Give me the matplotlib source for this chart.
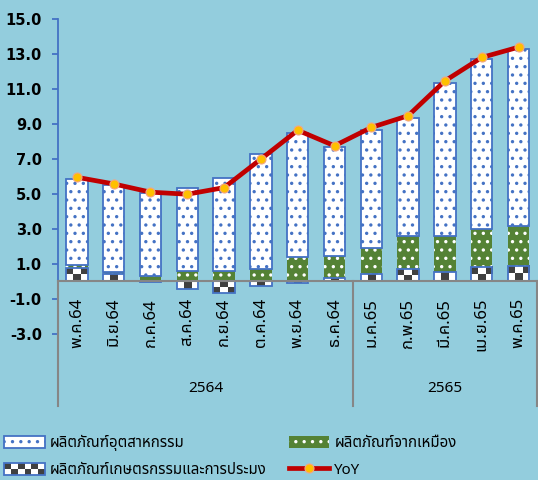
import matplotlib
import matplotlib.pyplot as plt
import numpy as np
from matplotlib.colors import ListedColormap
from matplotlib.legend_handler import HandlerBase
from matplotlib.lines import Line2D
from matplotlib.patches import Patch, Rectangle

matplotlib.use("Agg")

THAI = ["Noto Sans Thai", "Sarabun", "DejaVu Sans"]
plt.rcParams["font.family"] = THAI
plt.rcParams["hatch.linewidth"] = 1.2

months = ["พ.ค.64", "มิ.ย.64", "ก.ค.64", "ส.ค.64", "ก.ย.64", "ต.ค.64", "พ.ย.64",
          "ธ.ค.64", "ม.ค.65", "ก.พ.65", "มี.ค.65", "เม.ย.65", "พ.ค.65"]
years = ["2564", "2565"]
year_sizes = [8, 5]

agri = [0.78, 0.40, -0.06, -0.42, -0.66, -0.27, -0.07, 0.18, 0.44, 0.70, 0.51, 0.81, 0.87]
mining = [0.14, 0.13, 0.30, 0.59, 0.59, 0.68, 1.38, 1.26, 1.47, 1.91, 2.10, 2.16, 2.31]
industry = [4.93, 4.96, 4.76, 4.77, 5.34, 6.61, 7.12, 6.23, 6.76, 6.75, 8.75, 9.72, 10.10]
yoy = [5.95, 5.57, 5.10, 4.98, 5.36, 6.99, 8.64, 7.75, 8.80, 9.47, 11.46, 12.80, 13.39]

lab_ind = "ผลิตภัณฑ์อุตสาหกรรม"
lab_min = "ผลิตภัณฑ์จากเหมือง"
lab_agr = "ผลิตภัณฑ์เกษตรกรรมและการประมง"
lab_yoy = "YoY"

BG = "#93CDDD"
BLUE = "#4472C4"
GREEN = "#548235"
DARK = "#404040"
RED = "#C00000"
GRAY = "#868686"
checker_cmap = ListedColormap(["white", DARK])


class CheckerHandler(HandlerBase):
    def create_artists(self, legend, orig_handle, xdescent, ydescent,
                       width, height, fontsize, trans):
        arts = [Rectangle((-xdescent, -ydescent), width, height,
                          facecolor="white", edgecolor="none", transform=trans)]
        nc, nr = 6, 2
        cw, ch = width / nc, height / nr
        for r in range(nr):
            for c in range(nc):
                if (r + c) % 2:
                    arts.append(Rectangle((-xdescent + c * cw, -ydescent + r * ch), cw, ch,
                                          facecolor=DARK, edgecolor="none", transform=trans))
        arts.append(Rectangle((-xdescent, -ydescent), width, height, facecolor="none",
                              edgecolor=BLUE, linewidth=1.3, transform=trans))
        return arts


def main():
    fig = plt.figure(figsize=(5.38, 4.8), dpi=100, facecolor=BG)
    ax = fig.add_axes([0.1087, 0.3046, 0.8893, 0.6558])
    ax.set_facecolor(BG)

    x = np.arange(len(months))
    agri_a = np.array(agri)
    mining_a = np.array(mining)
    industry_a = np.array(industry)
    pos = np.clip(agri_a, 0, None)
    w = 0.58

    ax.set_xlim(-0.5, len(months) - 0.5)
    ax.set_ylim(-3, 15)

    # agriculture: checker texture inside the bar rectangles
    agri_bars = ax.bar(x, agri_a, w, facecolor="none", edgecolor=BLUE, linewidth=1.3, zorder=4)
    for rect in agri_bars:
        x0, y0 = rect.get_x(), rect.get_y()
        bw, bh = rect.get_width(), rect.get_height()
        nr = max(1, int(round(abs(bh) / 0.4)))
        img = np.add.outer(np.arange(nr), np.arange(3)) % 2
        ax.imshow(img, cmap=checker_cmap, extent=(x0, x0 + bw, y0, y0 + bh),
                  origin="lower", aspect="auto", interpolation="nearest", zorder=3)

    ax.bar(x, mining_a, w, bottom=pos, facecolor=GREEN, edgecolor="white",
           linewidth=0, hatch="..", zorder=3)
    ax.bar(x, industry_a, w, bottom=pos + mining_a, facecolor="white",
           edgecolor=BLUE, linewidth=1.3, hatch="..", zorder=3)

    ax.plot(x, yoy, color=RED, linewidth=3.4, marker="o", markersize=6.5,
            markerfacecolor="#FFC000", markeredgecolor="#F4A582", markeredgewidth=0.8, zorder=5)

    # value axis
    for s in ["top", "right", "bottom"]:
        ax.spines[s].set_visible(False)
    ax.spines["left"].set_color(BLUE)
    ax.spines["left"].set_linewidth(1.3)
    ax.set_yticks(np.arange(-3, 15.1, 2))
    ax.set_yticklabels([f"{v:.1f}" for v in np.arange(-3, 15.1, 2)])
    ax.tick_params(axis="y", colors=BLUE, length=4, width=1.3, pad=8)
    for t in ax.get_yticklabels():
        t.set_color("black")
        t.set_fontweight("bold")
        t.set_fontsize(10.5)
        t.set_family(["DejaVu Sans"])
    ax.set_xticks([])

    # multi-level category axis
    ax.plot([-0.5, len(months) - 0.5], [0, 0], color=GRAY, lw=1.5, clip_on=False, zorder=6)
    edges = np.concatenate([[0], np.cumsum(year_sizes)]) - 0.5
    for e in edges:
        ax.plot([e, e], [0, -7.15], color=GRAY, lw=1.5, clip_on=False, zorder=6)
    for i, m in enumerate(months):
        ax.text(i, -0.95, m, rotation=90, ha="center", va="top", fontsize=12, clip_on=False)
    for k, yr in enumerate(years):
        ax.text((edges[k] + edges[k + 1]) / 2, -6.15, yr, ha="center", va="center",
                fontsize=11, clip_on=False)

    handles = [
        Patch(facecolor="white", edgecolor=BLUE, hatch="..", linewidth=1.3),
        Patch(facecolor="white"),
        Patch(facecolor=GREEN, edgecolor="white", linewidth=0, hatch=".."),
        Line2D([], [], color=RED, linewidth=3.4, marker="o", markersize=6.5,
               markerfacecolor="#FFC000", markeredgecolor="#F4A582", markeredgewidth=0.8),
    ]
    labels = [lab_ind, lab_agr, lab_min, lab_yoy]
    fig.legend(handles, labels, loc="upper left", bbox_to_anchor=(-0.006, 0.110),
               ncol=2, frameon=False, fontsize=10.8, handlelength=2.7, handleheight=0.85,
               handletextpad=0.35, columnspacing=1.45, labelspacing=0.78, borderpad=0,
               handler_map={handles[1]: CheckerHandler()})

    fig.savefig("out.png", dpi=100, facecolor=BG)


if __name__ == "__main__":
    main()
